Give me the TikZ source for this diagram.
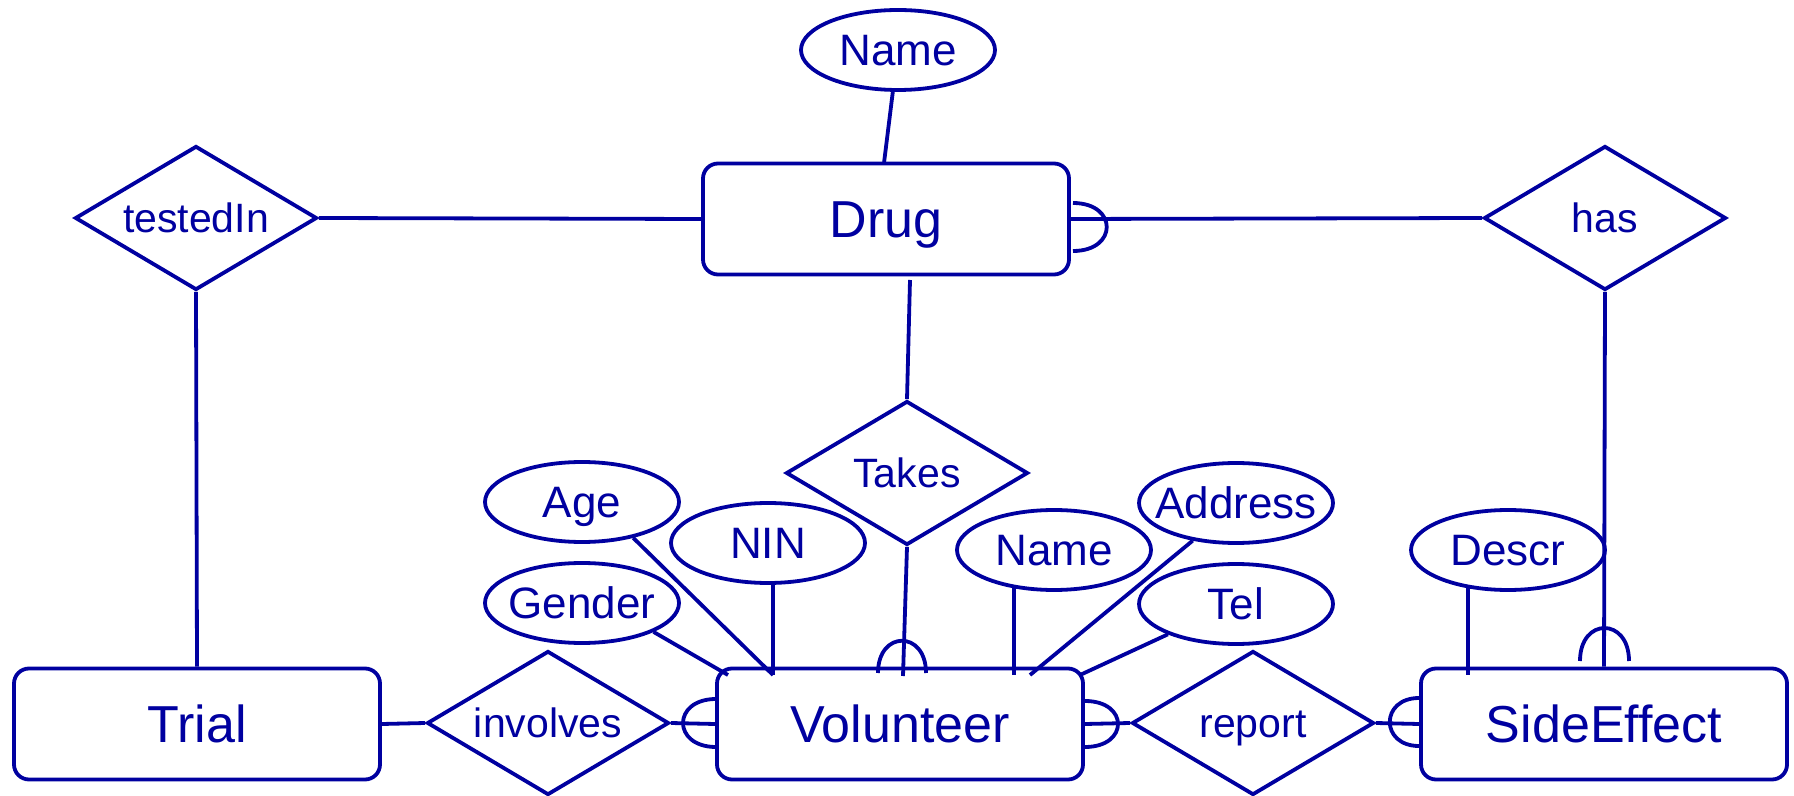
\documentclass[tikz,border=0pt]{standalone}
\usepackage{fontspec}
\setmainfont{Liberation Sans}
\usetikzlibrary{shapes.geometric}
\definecolor{er}{RGB}{0,0,160}
\tikzset{
 ln/.style={draw=er, line width=1.9pt},
 entfont/.style={text=er, font=\fontsize{26}{30}\selectfont, text height=18.7pt, text depth=0pt},
 ent/.style={ln, rectangle, rounded corners=7.5pt, minimum width=183pt, minimum height=55.5pt, inner sep=0pt, entfont},
 attr/.style={ln, ellipse, minimum width=97pt, minimum height=40pt, inner sep=0pt,
   label={[text=er, font=\fontsize{22}{26}\selectfont, text height=15.8pt, text depth=0pt, inner sep=0pt]center:#1}},
 rel/.style={ln, diamond, minimum width=121pt, minimum height=72pt, inner sep=0pt,
   label={[text=er, font=\fontsize{20.5}{24}\selectfont, text height=14.7pt, text depth=0pt, inner sep=0pt]center:#1}},
}
\begin{document}
\begin{tikzpicture}[x=0.5pt,y=-0.5pt]
\fill[white] (0,0) rectangle (1794,796);
\useasboundingbox (0,0) rectangle (1794,796);
% entities
\node[ent] (drug) at (886,219) {Drug};
\node[ent] (trial) at (197,724) {Trial};
\node[ent] (vol) at (900,724) {Volunteer};
\node[ent] (se) at (1604,724) {SideEffect};
% relationships
\node[rel=testedIn] (tested) at (196,218) {};
\node[rel=has] (has) at (1605,218) {};
\node[rel=Takes] (takes) at (907,473) {};
\node[rel=involves] (inv) at (548,723) {};
\node[rel=report] (rep) at (1253,723) {};
% attributes
\node[attr=Name] (dname) at (898,50) {};
\node[attr=Age] (age) at (582,502) {};
\node[attr=NIN] (nin) at (768,543) {};
\node[attr=Gender] (gender) at (582,603) {};
\node[attr=Name] (vname) at (1054,550) {};
\node[attr=Address] (addr) at (1236,503) {};
\node[attr=Tel] (tel) at (1236,604) {};
\node[attr=Descr] (descr) at (1508,550) {};
% connector end points
\coordinate (dN) at (884,163);
\coordinate (dT) at (910,280);
\coordinate (vT) at (903,676);
\coordinate (vAge) at (773,675);
\coordinate (vNin) at (773,675);
\coordinate (vGen) at (728,675);
\coordinate (vName) at (1014,675);
\coordinate (vAddr) at (1030,675);
\coordinate (vTel) at (1080,675);
\coordinate (sD) at (1468,675);
% connectors
\draw[ln] (dname) -- (dN);
\draw[ln] (tested.east) -- (drug.west);
\draw[ln] (tested.south) -- (trial.north);
\draw[ln] (drug.east) -- (has.west);
\draw[ln] (has.south) -- (se.north);
\draw[ln] (dT) -- (takes.north);
\draw[ln] (takes.south) -- (vT);
\draw[ln] (trial.east) -- (inv.west);
\draw[ln] (inv.east) -- (vol.west);
\draw[ln] (vol.east) -- (rep.west);
\draw[ln] (rep.east) -- (se.west);
\draw[ln] (age.-35) -- (vAge);
\draw[ln] (nin.south -| vNin) -- (vNin);
\draw[ln] (gender.-22) -- (vGen);
\draw[ln] (vname.222 -| vName) -- (vName);
\draw[ln] (addr.221) -- (vAddr);
\draw[ln] (tel.204) -- (vTel);
\draw[ln] (descr.222 -| sD) -- (sD);
% crow's feet (many side)
\draw[ln] (1073,203) .. controls (1118,203) and (1118,251) .. (1073,251);
\draw[ln] (716,699) .. controls (672,699) and (672,747) .. (716,747);
\draw[ln] (1085,701) .. controls (1129,701) and (1129,747) .. (1085,747);
\draw[ln] (1419,698) .. controls (1380,698) and (1380,746) .. (1419,746);
\draw[ln] (1580,661) .. controls (1580,617) and (1629,617) .. (1629,661);
\draw[ln] (878,673) .. controls (878,630) and (926,630) .. (926,673);
\end{tikzpicture}
\end{document}
